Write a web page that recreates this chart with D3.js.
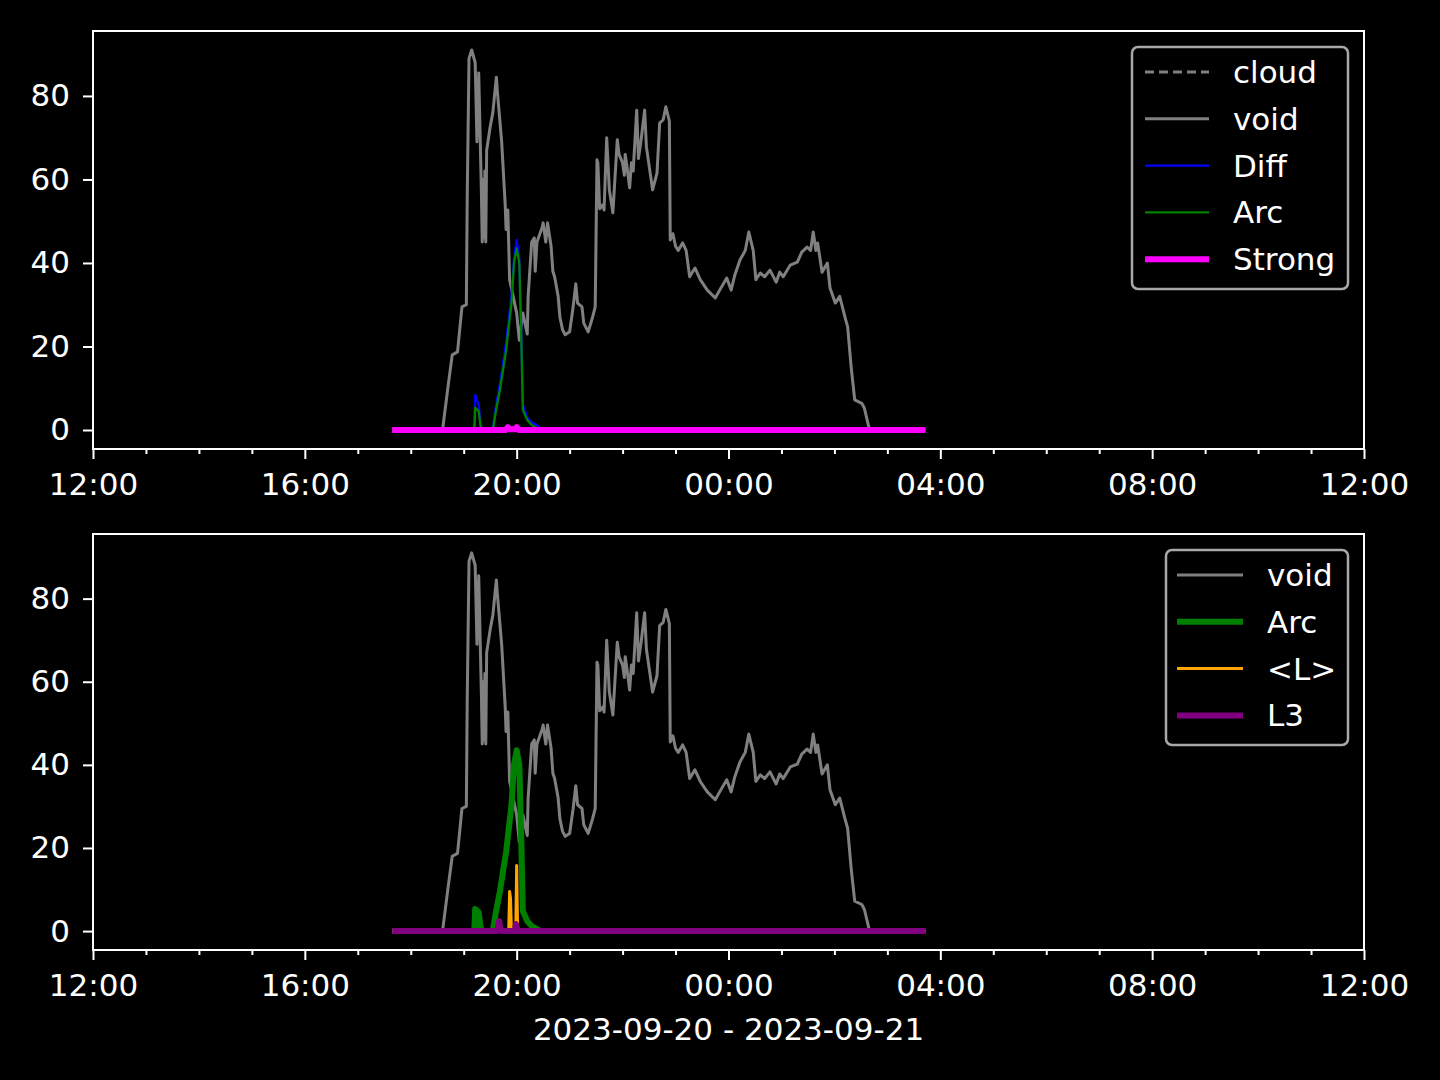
<!DOCTYPE html>
<html><head><meta charset="utf-8">
<script src="https://cdn.jsdelivr.net/npm/d3@7"></script>
<style>body{margin:0;background:#000;}svg{display:block;}</style>
</head><body>
<svg id="chart" width="1440" height="1080"></svg>
<script>
// ---- data (time HH:MM, value); hours < 12 belong to 2023-09-21 ----
const voidData = [
["17:39",0],["18:36",0],["18:42",10],["18:47",18],["18:53",18.7],["18:58",29.5],["19:03",30],["19:04",56],
["19:06",89],["19:09",91],["19:13",88],["19:15",69],["19:17",85.5],["19:20",57.5],["19:21",45],["19:22",60],
["19:23",46],["19:24",62],["19:25",45],["19:26",67],["19:30",72.6],["19:33",76],["19:37",84.5],["19:38",81.4],
["19:41",74],["19:43",69],["19:47",54],["19:48",48],["19:50",52.7],["19:52",36],["19:56",32],["20:00",28],
["20:03",21.5],["20:07",28],["20:12",23],["20:13",32],["20:17",45],["20:20",46],["20:21",38],["20:23",45],
["20:29",48.6],["20:30",49.6],["20:33",45],["20:35",49.6],["20:39",44],["20:41",38],["20:43",36.7],["20:47",32],
["20:49",27],["20:52",24],["20:55",22.8],["21:00",23.5],["21:04",29.5],["21:07",35],["21:09",30.4],["21:14",29.5],
["21:16",25.6],["21:21",23.5],["21:26",27],["21:29",29.5],["21:31",64.7],["21:32",64],["21:34",53],["21:38",54],
["21:39",52.7],["21:42",70],["21:45",57.5],["21:49",52],["21:54",69.5],["21:56",66],["22:00",64],["22:02",61],
["22:03",66],["22:05",63],["22:08",58],["22:10",64],["22:12",62],["22:16",76.6],["22:18",65],["22:21",69.5],
["22:25",76.6],["22:27",67.8],["22:34",57.5],["22:39",61.5],["22:42",73.5],["22:46",74.3],["22:49",77.4],["22:53",74],
["22:54",45.5],["22:57",47],["23:00",44],["23:03",43],["23:08",44.8],["23:12",43],["23:16",36.7],["23:22",38.8],
["23:28",36],["23:36",33.5],["23:45",31.6],["23:50",33.5],["23:58",36.4],["00:03",33.5],["00:07",37],["00:13",40.7],
["00:19",43],["00:23",47.4],["00:28",43],["00:31",36],["00:36",37.6],["00:41",36.7],["00:47",38.3],["00:54",35.4],
["00:58",37.8],["01:02",36.7],["01:10",39.5],["01:18",40.2],["01:23",42.6],["01:29",43.8],["01:33",43],["01:36",47.4],
["01:39",43],["01:41",44.8],["01:46",37.8],["01:52",40],["01:55",34],["02:01",30.4],["02:06",32],["02:12",27],
["02:15",24.7],["02:19",15],["02:23",7.2],["02:31",6.4],["02:34",5.2],["02:39",0.7],["02:41",0],["03:43",0]
];
const cloudData = [["17:39",0],["03:43",0]];
const diffData = [
["17:39",0],["19:12",0],["19:13",8.4],["19:15",7],["19:17",6],["19:19",1.5],["19:21",0],["19:33",0],
["19:36",5],["19:41",11],["19:44",15],["19:48",21],["19:54",32],["19:57",41],["20:00",45.5],["20:03",41],
["20:05",26],["20:07",6],["20:12",3],["20:17",1.8],["20:23",1.2],["20:27",0.3],["20:30",0],["21:21",0],
["21:22",0.5],["21:23",0],["03:43",0]
];
const arcData = [
["17:39",0],["19:12",0],["19:13",5.3],["19:17",4.5],["19:19",1],["19:21",0],["19:33",0],["19:36",4],
["19:41",9.6],["19:44",13.6],["19:48",19],["19:54",30],["19:57",40],["20:00",43.5],["20:03",40],["20:05",24],
["20:07",4.8],["20:12",2.4],["20:17",1.2],["20:23",0.5],["20:27",0],["03:43",0]
];
const strongData = [
["17:39",0],["19:48",0],["19:50",0.7],["19:52",0.2],["19:58",0.2],["20:00",0.7],["20:02",0],["03:43",0]
];
const lMeanData = [
["17:39",0],["19:38",0],["19:40",2.5],["19:42",0],["19:51",0],["19:52",9.5],["19:53",8],["19:54",0.5],
["19:59",0.5],["20:00",15.8],["20:01",1],["20:02",0],["03:43",0]
];
const l3Data = [
["17:39",0],["19:38",0],["19:40",2.4],["19:42",0],["19:58",0],["19:59",1.7],["20:01",0],["03:43",0]
];
const xTickLabels = ["12:00","16:00","20:00","00:00","04:00","08:00","12:00"];
const yTickValues = [0,20,40,60,80];
const xLabel = "2023-09-20 - 2023-09-21";

// ---- helpers ----
function parseT(s){const [h,m]=s.split(":").map(Number);return h>=12?new Date(2023,8,20,h,m):new Date(2023,8,21,h,m);}
const svg = d3.select("#chart");
svg.append("rect").attr("width",1440).attr("height",1080).attr("fill","#000");
const FONT = "DejaVu Sans";
const FS = 31;
const x = d3.scaleTime().domain([new Date(2023,8,20,12), new Date(2023,8,21,12)]).range([93,1364]);
const majorTicks = d3.timeHour.every(4).range(new Date(2023,8,20,12), new Date(2023,8,21,12,1));
const minorTicks = d3.timeHour.every(1).range(new Date(2023,8,20,12), new Date(2023,8,21,12,1)).filter(d=>d.getHours()%4!==0);

function panel(top, bottom, series, legendItems, legendBox){
  const y = d3.scaleLinear().domain([-4.55,95.55]).range([bottom, top]);
  const g = svg.append("g");
  const line = d3.line().x(d=>x(parseT(d[0]))).y(d=>y(d[1]));
  series.forEach(s=>{
    g.append("path").datum(s.data).attr("d",line).attr("fill","none")
      .attr("stroke",s.color).attr("stroke-width",s.w).attr("stroke-linejoin","round")
      .attr("stroke-dasharray",s.dash||null);
  });
  const xa = d3.axisBottom(x).tickValues(majorTicks).tickFormat((d,i)=>xTickLabels[i]).tickSize(10).tickPadding(14);
  const gx = g.append("g").attr("transform",`translate(0,${bottom})`).call(xa);
  const xm = d3.axisBottom(x).tickValues(minorTicks).tickFormat("").tickSize(5);
  const gxm = g.append("g").attr("transform",`translate(0,${bottom})`).call(xm);
  const ya = d3.axisLeft(y).tickValues(yTickValues).tickSize(10).tickPadding(13);
  const gy = g.append("g").attr("transform",`translate(93,0)`).call(ya);
  [gx,gxm,gy].forEach(a=>{
    a.select(".domain").remove();
    a.selectAll("line").attr("stroke","#fff").attr("stroke-width",2);
    a.selectAll("text").attr("fill","#fff").style("font-family",FONT).style("font-size",FS+"px");
  });
  g.append("rect").attr("x",93).attr("y",top).attr("width",1364-93).attr("height",bottom-top)
    .attr("fill","none").attr("stroke","#fff").attr("stroke-width",2);
  const lg = g.append("g");
  lg.append("rect").attr("x",legendBox.x).attr("y",legendBox.y).attr("width",legendBox.w).attr("height",legendBox.h)
    .attr("rx",6).attr("fill","#000").attr("fill-opacity",0.8).attr("stroke","#a8a8a8").attr("stroke-width",2.5);
  legendItems.forEach((it,i)=>{
    const yy = legendBox.y + 25 + i*46.8;
    lg.append("line").attr("x1",legendBox.lx1).attr("x2",legendBox.lx2).attr("y1",yy).attr("y2",yy)
      .attr("stroke",it.color).attr("stroke-width",it.w).attr("stroke-dasharray",it.dash||null);
    lg.append("text").attr("x",legendBox.tx).attr("y",yy+11).text(it.name).attr("fill","#fff")
      .style("font-family",FONT).style("font-size",FS+"px");
  });
}

const s1 = [
  {name:"cloud", data:cloudData, color:"#808080", w:3, dash:"9,5"},
  {name:"void", data:voidData, color:"#808080", w:3},
  {name:"Diff", data:diffData, color:"#0000ff", w:2.3},
  {name:"Arc", data:arcData, color:"#008000", w:2.3},
  {name:"Strong", data:strongData, color:"#ff00ff", w:6}
];
panel(31, 449, s1, s1, {x:1132,y:47,w:216,h:242,lx1:1145,lx2:1209,tx:1233});

const s2 = [
  {name:"void", data:voidData, color:"#808080", w:3},
  {name:"Arc", data:arcData, color:"#008000", w:6},
  {name:"<L>", data:lMeanData, color:"#ffa500", w:3},
  {name:"L3", data:l3Data, color:"#800080", w:6}
];
panel(534, 950, s2, s2, {x:1166,y:550,w:182,h:195,lx1:1177,lx2:1243,tx:1267});

svg.append("text").attr("x",728.5).attr("y",1040).attr("text-anchor","middle").text(xLabel)
  .attr("fill","#fff").style("font-family",FONT).style("font-size",FS+"px");
</script>
</body></html>
